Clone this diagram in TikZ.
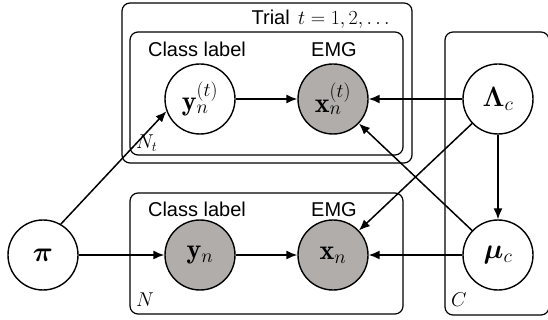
\RequirePackage{fix-cm}
\documentclass[tikz,border=0pt]{standalone}
\usepackage{amsmath}
\usepackage{bm}
\usepackage{fontspec}
\newfontfamily\labfont{Liberation Sans}
\usetikzlibrary{arrows.meta}
\definecolor{obsgray}{RGB}{176,173,171}
\tikzset{
  var/.style={circle, draw=black, line width=1.4pt, minimum size=70pt, inner sep=0pt, fill=white, font=\fontsize{28}{33}\selectfont},
  obs/.style={var, fill=obsgray},
  plate/.style={draw=black, line width=1.2pt, rounded corners=8pt},
  edge/.style={line width=1.5pt, -{Latex[length=11pt,width=9pt]}},
  lab/.style={font=\labfont\fontsize{20}{24}\selectfont, inner sep=0pt, anchor=base},
  platelab/.style={font=\fontsize{20}{24}\selectfont, inner sep=0pt, anchor=base west}
}
\begin{document}
\begin{tikzpicture}[x=1pt,y=-1pt]
\useasboundingbox (0,0) rectangle (548,320);
% plates
\draw[plate] (122,3) rectangle (412,163);
\draw[plate] (130,32) rectangle (403,155);
\draw[plate] (130,193) rectangle (403,314);
\draw[plate] (445,32) rectangle (549,315);
% plate labels
\node[lab, anchor=base east] (triallab) at (290,25) {Trial};
\node[platelab] (tlab) at (298,25) {$t=1,2,\dots$};
\node[platelab] (ntlab) at (136,149) {$N_t$};
\node[platelab] (nlab) at (136,306) {$N$};
\node[platelab] (clab) at (451,306) {$C$};
\node[lab] (cl1) at (197,57) {Class label};
\node[lab] (emg1) at (334,57) {EMG};
\node[lab] (cl2) at (197,217) {Class label};
\node[lab] (emg2) at (334,217) {EMG};
% nodes
\node[var] (pi) at (43,255) {$\bm{\pi}$};
\node[var] (yt) at (200,99) {$\mathbf{y}_n^{(t)}$};
\node[obs] (xt) at (333,99) {$\mathbf{x}_n^{(t)}$};
\node[obs] (yn) at (200,255) {$\mathbf{y}_n$};
\node[obs] (xn) at (333,255) {$\mathbf{x}_n$};
\node[var] (lam) at (498,99) {$\bm{\Lambda}_c$};
\node[var] (mu) at (498,255) {$\bm{\mu}_c$};
% edges
\draw[edge] (pi.60) -- (yt.200);
\draw[edge] (pi) -- (yn);
\draw[edge] (yt) -- (xt);
\draw[edge] (yn) -- (xn);
\draw[edge] (lam) -- (xt);
\draw[edge] (lam) -- (xn);
\draw[edge] (mu) -- (xt);
\draw[edge] (mu) -- (xn);
\draw[edge] (lam) -- (mu);
\end{tikzpicture}
\end{document}
